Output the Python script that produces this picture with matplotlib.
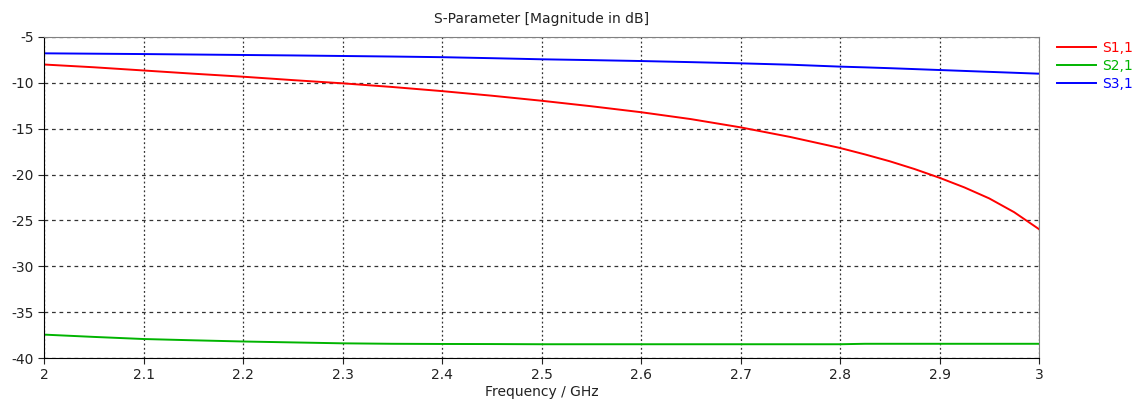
import numpy as np
import matplotlib
matplotlib.use("Agg")
import matplotlib.pyplot as plt
from matplotlib.ticker import FormatStrFormatter

plt.rcParams["axes.unicode_minus"] = False

# frequency points (GHz)
freq = [2.0, 2.05, 2.1, 2.15, 2.2, 2.25, 2.3, 2.35, 2.4, 2.45, 2.5, 2.55,
        2.6, 2.65, 2.7, 2.75, 2.8, 2.825, 2.85, 2.875, 2.9, 2.925, 2.95,
        2.975, 3.0]

s11 = [-8.0, -8.3, -8.65, -9.0, -9.33, -9.7, -10.05, -10.45, -10.9, -11.4,
       -11.95, -12.55, -13.2, -13.95, -14.85, -15.9, -17.1, -17.8, -18.55,
       -19.4, -20.35, -21.4, -22.6, -24.1, -25.95]
s21 = [-37.45, -37.7, -37.93, -38.07, -38.2, -38.3, -38.4, -38.45, -38.47,
       -38.48, -38.5, -38.5, -38.5, -38.5, -38.5, -38.5, -38.5, -38.45,
       -38.45, -38.45, -38.45, -38.45, -38.45, -38.45, -38.45]
s31 = [-6.78, -6.82, -6.86, -6.91, -6.96, -7.01, -7.07, -7.13, -7.2, -7.31,
       -7.43, -7.52, -7.62, -7.74, -7.87, -8.02, -8.23, -8.31, -8.4, -8.5,
       -8.6, -8.7, -8.8, -8.9, -9.0]

labels = ["S1,1", "S2,1", "S3,1"]
colors = ["#ff0000", "#00b400", "#0000ff"]

fig = plt.figure(figsize=(11.44, 4.0), dpi=100)
ax = fig.add_axes([44 / 1144, 42 / 400, 995 / 1144, 321 / 400])

for y, lab, c in zip([s11, s21, s31], labels, colors):
    ax.plot(freq, y, color=c, lw=1.4, label=lab)

ax.set_xlim(2, 3)
ax.set_ylim(-40, -5)
ax.set_xticks(np.arange(2.0, 3.01, 0.1))
ax.set_yticks(np.arange(-40, -4, 5))
ax.xaxis.set_major_formatter(FormatStrFormatter("%g"))

ax.grid(axis="x", color="#333333", linestyle=(0, (1.5, 2)), linewidth=0.9)
ax.grid(axis="y", color="#333333", linestyle=(0, (3, 3)), linewidth=0.9)

for side in ["left", "bottom"]:
    ax.spines[side].set_color("black")
for side in ["top", "right"]:
    ax.spines[side].set_color("#808080")

ax.tick_params(axis="both", labelsize=10, colors="#222222", length=4, width=0.8)
ax.set_xlabel("Frequency / GHz", fontsize=10, color="#222222", labelpad=2)
ax.set_title("S-Parameter [Magnitude in dB]", fontsize=10, color="#222222", pad=10)

leg = ax.legend(loc="upper left", bbox_to_anchor=(1.01, 1.015), frameon=False,
                fontsize=10, handlelength=2.8, handletextpad=0.4,
                labelspacing=0.3, borderaxespad=0.2)
for txt, c in zip(leg.get_texts(), colors):
    txt.set_color(c)

fig.savefig("out.png", dpi=100)
